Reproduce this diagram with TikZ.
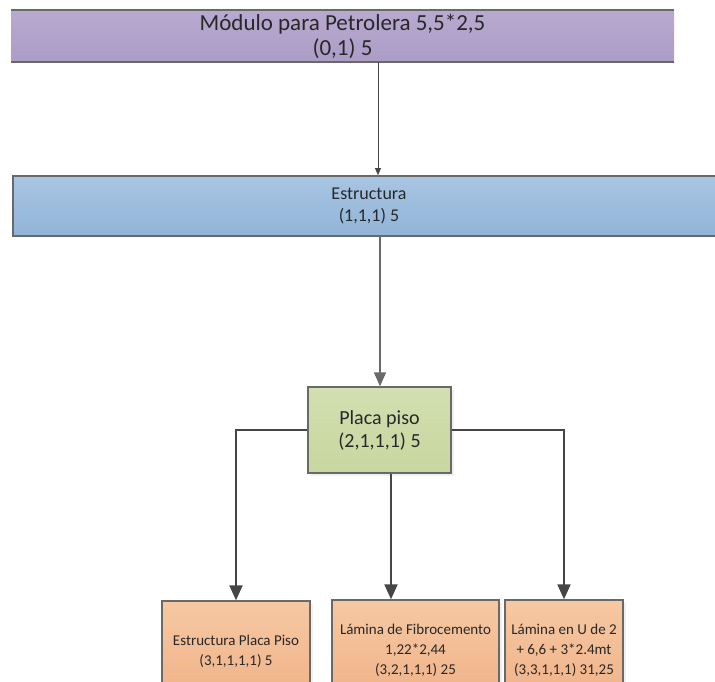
\documentclass[tikz,border=0pt]{standalone}
\usepackage{fontspec}
\setmainfont{Carlito}
\usetikzlibrary{arrows.meta,shadows}
\definecolor{topfillA}{RGB}{183,169,207}
\definecolor{topfillB}{RGB}{172,157,198}
\definecolor{estrA}{RGB}{168,197,226}
\definecolor{estrB}{RGB}{145,180,216}
\definecolor{placaA}{RGB}{211,223,176}
\definecolor{placaB}{RGB}{200,214,160}
\definecolor{orA}{RGB}{246,200,162}
\definecolor{orB}{RGB}{240,178,136}
\definecolor{bord}{RGB}{105,105,105}
\definecolor{txt}{RGB}{40,40,40}
\definecolor{conn}{RGB}{70,70,70}
\tikzset{
  boxbase/.style={rectangle, inner sep=0pt, align=center, text=txt},
  topbox/.style={boxbase, top color=topfillA, bottom color=topfillB, font=\fontsize{23}{25}\selectfont},
  estrbox/.style={boxbase, draw=bord, line width=1.8pt, top color=estrA, bottom color=estrB, font=\fontsize{18}{22}\selectfont},
  placabox/.style={boxbase, draw=bord, line width=1.3pt, top color=placaA, bottom color=placaB, font=\fontsize{20}{23}\selectfont,
     drop shadow={opacity=0.12, shadow xshift=3pt, shadow yshift=-3pt}},
  leafbox/.style={boxbase, draw=bord, line width=1.3pt, top color=orA, bottom color=orB, font=\fontsize{15}{20}\selectfont,
     drop shadow={opacity=0.12, shadow xshift=3pt, shadow yshift=-3pt}},
  thinarrow/.style={draw=conn, line width=0.8pt, -{Triangle[length=7pt,width=6pt]}},
  midarrow/.style={draw=bord, line width=1.4pt, -{Triangle[length=14pt,width=12pt]}},
  connarrow/.style={draw=conn, line width=2pt, -{Triangle[length=15pt,width=13pt]}},
}
\begin{document}
\begin{tikzpicture}[x=1pt,y=-1pt]
\useasboundingbox (0,0) rectangle (715,681);
\clip (0,0) rectangle (715,681);
% top box
\node[topbox, minimum width=663pt, minimum height=52pt] (top) at (342.5,36) {Módulo para Petrolera 5,5*2,5\\(0,1) 5};
\draw[bord, line width=2pt] (top.north west) -- (top.north east);
\draw[bord, line width=2pt] (top.south west) -- (top.south east);
% estructura
\node[estrbox, minimum width=712pt, minimum height=60pt] (estr) at (369,206) {Estructura\\(1,1,1) 5};
% placa
\node[placabox, minimum width=143pt, minimum height=86pt] (placa) at (379.5,430) {Placa piso\\(2,1,1,1) 5};
% leaves
\node[leafbox, minimum width=148pt, minimum height=100pt] (b1) at (236,651) {Estructura Placa Piso\\(3,1,1,1,1) 5};
\node[leafbox, minimum width=167pt, minimum height=100pt] (b2) at (415.5,650) {Lámina de Fibrocemento\\1,22*2,44\\(3,2,1,1,1) 25};
\node[leafbox, minimum width=118pt, minimum height=100pt] (b3) at (564,650) {Lámina en U de 2\\+ 6,6 + 3*2.4mt\\(3,3,1,1,1) 31,25};
% connectors
\coordinate (x1) at (378,0);
\coordinate (x2) at (380,0);
\coordinate (x3) at (391,0);
\draw[thinarrow] (x1 |- top.south) -- (x1 |- estr.north);
\draw[midarrow] (x2 |- estr.south) -- (x2 |- placa.north);
\draw[connarrow] (placa.west) -| (b1.north);
\draw[connarrow] (x3 |- placa.south) -- (x3 |- b2.north);
\draw[connarrow] (placa.east) -| (b3.north);
\end{tikzpicture}
\end{document}
